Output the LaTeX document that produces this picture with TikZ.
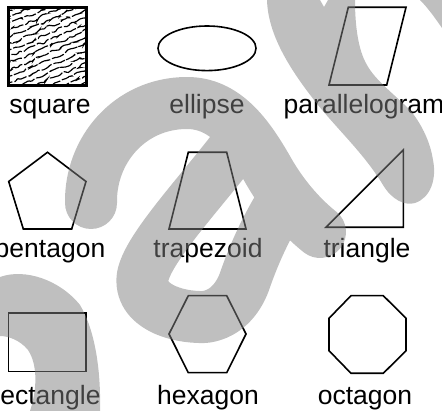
\documentclass[tikz,border=0pt]{standalone}
\usepackage{fontspec}
\setmainfont{Liberation Sans}
\usetikzlibrary{decorations.pathmorphing}
\begin{document}
\begin{tikzpicture}[x=1pt,y=-1pt,
  shp/.style={draw=black, line width=1.6pt, line join=miter},
  lbl/.style={font=\fontsize{26.5}{31}\selectfont, inner sep=0pt, anchor=base},
  wm/.style={draw=gray, opacity=0.5, line width=52pt, line cap=round, line join=round},
  wmfill/.style={fill=gray, opacity=0.5},
  wave/.style={decorate, decoration={random steps, segment length=3.2pt, amplitude=1.7pt}, rounded corners=1.4pt, line width=1.15pt, dash pattern=on 14pt off 2pt}]
\useasboundingbox (0,0) rectangle (442,411);
% square with pattern
\begin{scope}
  \clip (8.3,7.3) rectangle (86.7,85.7);
  \pgfmathsetseed{11}
  \foreach \i in {0,...,20} {
    \draw[wave] (0,{8+\i*6.6}) -- (100,{-35+\i*6.6});
  }
\end{scope}
\draw[line width=2.6pt] (8.3,7.3) rectangle (86.7,85.7);
\node[lbl] (lsquare) at (50,114) {square};
% ellipse
\draw[shp] (207,48.3) ellipse [x radius=49pt, y radius=22.3pt];
\node[lbl] (lellipse) at (207,114) {ellipse};
% parallelogram
\draw[shp] (348.3,7.3) -- (406,7.3) -- (386.7,85) -- (329,85) -- cycle;
\node[lbl] (lpar) at (364,114) {parallelogram};
% pentagon
\draw[shp] (47.5,152.3) -- (86,181.5) -- (71.7,229) -- (23.3,229) -- (8.7,181.5) -- cycle;
\node[lbl] (lpent) at (50,258) {pentagon};
% trapezoid
\draw[shp] (188.3,152.3) -- (226.7,152.3) -- (246,229) -- (169,229) -- cycle;
\node[lbl] (ltrap) at (208,258) {trapezoid};
% triangle
\draw[shp] (326,227.3) -- (403.3,150) -- (403.3,227.3) -- cycle;
\node[lbl] (ltri) at (367,258) {triangle};
% rectangle
\draw[shp] (8.3,313.3) rectangle (86,371.7);
\node[lbl] (lrect) at (46,405) {rectangle};
% hexagon
\draw[shp] (188.3,295.7) -- (226.7,295.7) -- (246,334) -- (226.7,372.7) -- (188.3,372.7) -- (169,334) -- cycle;
\node[lbl] (lhex) at (208,405) {hexagon};
% octagon
\draw[shp] (351,295.7) -- (383.3,295.7) -- (406,318.3) -- (406,350.7) -- (383.3,373.3) -- (351,373.3) -- (329,350.7) -- (329,318.3) -- cycle;
\node[lbl] (loct) at (365,405) {octagon};
% gray watermark strokes
\draw[wm] (91,203) .. controls (90,150) and (130,103) .. (187,103)
               .. controls (225,103) and (248,135) .. (268,170)
               .. controls (285,200) and (305,220) .. (320,232)
          (242,138) .. controls (205,188) and (150,245) .. (143,275)
               .. controls (137,305) and (175,318) .. (205,317)
               .. controls (228,314) and (240,295) .. (245,280)
               .. controls (252,260) and (262,235) .. (280,205);
\fill[wmfill]
  (267,0) .. controls (268,35) and (290,70) .. (318,105)
          .. controls (340,132) and (365,155) .. (383,185)
          .. controls (392,200) and (405,206) .. (415,203)
          .. controls (430,198) and (437,180) .. (433,160)
          .. controls (430,140) and (420,122) .. (410,110)
          .. controls (395,95) and (375,80) .. (367,65)
          .. controls (358,50) and (355,25) .. (355,0)
          -- (328,0) -- (324,7) -- (320,0) -- cycle
  (0,277) .. controls (25,268) and (60,280) .. (80,305)
          .. controls (95,330) and (101,370) .. (100,411)
          -- (30,411) .. controls (37,390) and (38,365) .. (28,350)
          .. controls (20,340) and (8,336) .. (0,336) -- cycle
  (420,0) .. controls (428,8) and (435,18) .. (442,28) -- (442,0) -- cycle;
\end{tikzpicture}
\end{document}
